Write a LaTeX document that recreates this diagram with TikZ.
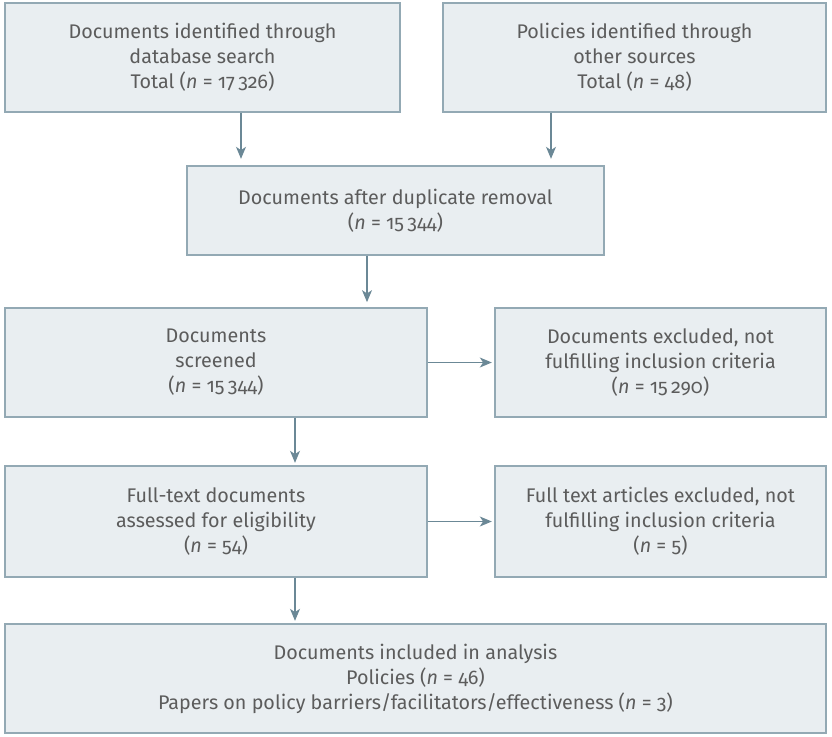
\documentclass[tikz,border=0pt]{standalone}
\usepackage{fontspec}
\setmainfont{Fira Sans}[Numbers=OldStyle]
\usetikzlibrary{arrows.meta}

\definecolor{boxfill}{HTML}{E9EEF1}
\definecolor{boxline}{HTML}{93A9B4}
\definecolor{arrowline}{HTML}{6B8896}
\definecolor{textgray}{HTML}{5C5C5C}

\tikzset{
  box/.style 2 args={draw=boxline, fill=boxfill, text=textgray, line width=0.8pt,
    align=center, inner sep=0pt, minimum width=#1*0.75pt, minimum height=#2*0.75pt,
    font=\fontsize{14.8}{18.75}\selectfont},
  arr/.style={draw=arrowline, line width=0.8pt, shorten >=2pt,
    -{Stealth[length=9pt,width=7.5pt,inset=2.5pt]}}
}

\begin{document}
\begin{tikzpicture}[x=0.75pt,y=-0.75pt]
\useasboundingbox (0,0) rectangle (832,736);

% boxes
\node[box={395}{109}] (db) at (202.5,57.5) {Documents identified through\\database search\\Total (\textit{n} = 17\,326)};
\node[box={383}{109}] (other) at (634.5,57.5) {Policies identified through\\other sources\\Total (\textit{n} = 48)};
\node[box={417}{89}] (dup) at (395.5,210.5) {Documents after duplicate removal\\(\textit{n} = 15\,344)};
\node[box={422}{109}] (screen) at (216,362.5) {Documents\\screened\\(\textit{n} = 15\,344)};
\node[box={331}{109}] (excl) at (660.5,362.5) {Documents excluded, not\\fulfilling inclusion criteria\\(\textit{n} = 15\,290)};
\node[box={422}{111}] (full) at (216,521.5) {Full-text documents\\assessed for eligibility\\(\textit{n} = 54)};
\node[box={331}{111}] (fullexcl) at (660.5,521.5) {Full text articles excluded, not\\fulfilling inclusion criteria\\(\textit{n} = 5)};
\node[box={821}{109}] (incl) at (415.5,678.5) {Documents included in analysis\\Policies (\textit{n} = 46)\\Papers on policy barriers/facilitators/effectiveness (\textit{n} = 3)};

% arrow positions
\coordinate (xa) at (241,0);
\coordinate (xb) at (551,0);
\coordinate (xc) at (367,0);
\coordinate (xd) at (295,0);

\draw[arr, shorten >=5pt] (db.south -| xa) -- (dup.north -| xa);
\draw[arr, shorten >=5pt] (other.south -| xb) -- (dup.north -| xb);
\draw[arr, shorten >=4pt] (dup.south -| xc) -- (screen.north -| xc);
\draw[arr] (screen.east) -- (excl.west);
\draw[arr] (screen.south -| xd) -- (full.north -| xd);
\draw[arr] (full.east) -- (fullexcl.west);
\draw[arr] (full.south -| xd) -- (incl.north -| xd);
\end{tikzpicture}
\end{document}
